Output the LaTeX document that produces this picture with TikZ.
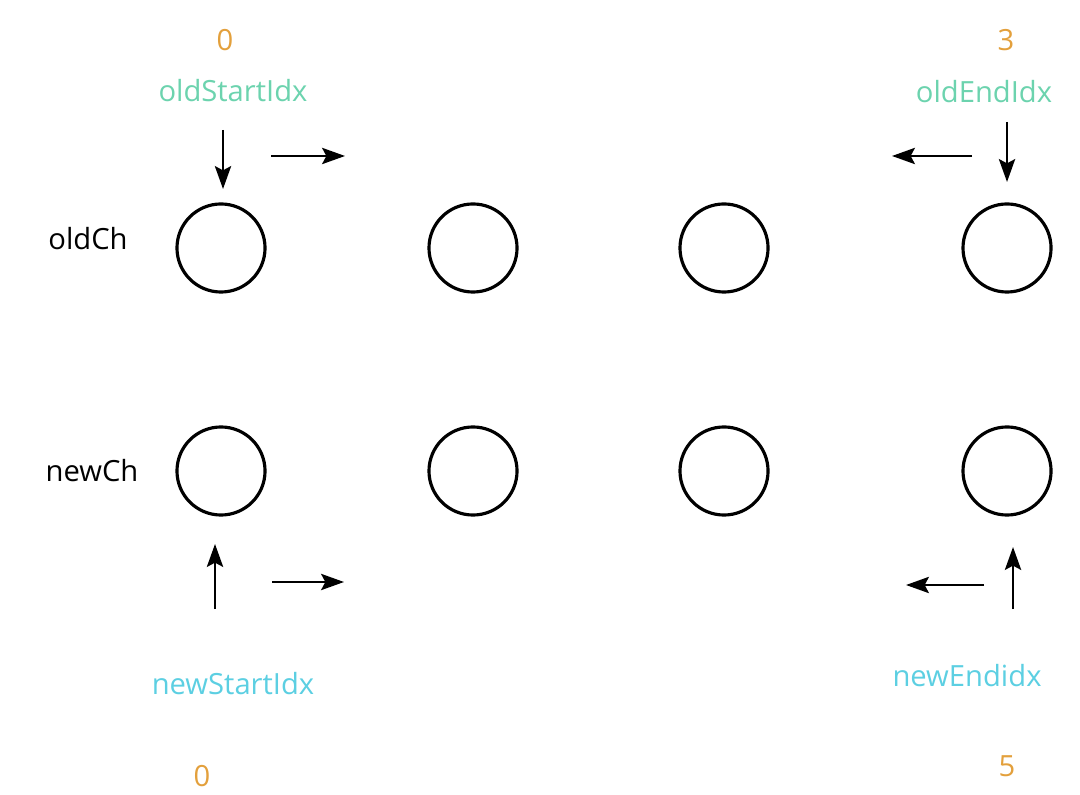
\documentclass[tikz,border=0pt]{standalone}
\usepackage{fontspec}
\setmainfont{Open Sans}
\usepackage{tikz}
\usetikzlibrary{arrows.meta,positioning}
\definecolor{idxnum}{HTML}{E3A03C}
\definecolor{oldidx}{HTML}{6CD3AE}
\definecolor{newidx}{HTML}{5CCFE2}
\tikzset{
	vnode/.style={circle, draw=black, line width=0.9pt, minimum size=0.88cm, inner sep=0pt},
	lbl/.style={font=\fontsize{8.3}{10}\selectfont, inner sep=0pt},
	ptr/.style={line width=0.75pt, -{Stealth[length=6.5pt,width=4.6pt,inset=1.2pt]}},
}
\begin{document}
\begin{tikzpicture}[x=0.01cm, y=-0.01cm]
		\useasboundingbox (0,0) rectangle (1080,795);
		% children
		\node [vnode] (o1) at (221,248) {};
		\node [vnode] (o2) at (473,248) {};
		\node [vnode] (o3) at (724,248) {};
		\node [vnode] (o4) at (1007,248) {};
		\node [vnode] (n1) at (221,471) {};
		\node [vnode] (n2) at (473,471) {};
		\node [vnode] (n3) at (724,471) {};
		\node [vnode] (n4) at (1007,471) {};
		\node [lbl] (oldch) at (88,239) {oldCh};
		\node [lbl] (newch) at (92,471) {newCh};
		% old pointers
		\node [lbl, text=idxnum] (os0) at (225,40) {0};
		\node [lbl, text=oldidx] (osi) at (233,91) {oldStartIdx};
		\node [lbl, text=idxnum] (oe3) at (1006,40) {3};
		\node [lbl, text=oldidx] (oei) at (984,92) {oldEndIdx};
		\coordinate (a1) at (223,130);
		\coordinate (a2) at (223,189);
		\coordinate (a3) at (271,156);
		\coordinate (a4) at (345,156);
		\coordinate (a5) at (972,156);
		\coordinate (a6) at (892,156);
		\coordinate (a7) at (1007,122);
		\coordinate (a8) at (1007,182);
		\draw [ptr] (a1) -- (a2);
		\draw [ptr] (a3) -- (a4);
		\draw [ptr] (a5) -- (a6);
		\draw [ptr] (a7) -- (a8);
		% new pointers
		\node [lbl, text=newidx] (nsi) at (233,684) {newStartIdx};
		\node [lbl, text=idxnum] (ns0) at (202,776) {0};
		\node [lbl, text=newidx] (nei) at (967,676) {newEndidx};
		\node [lbl, text=idxnum] (ne5) at (1007,766) {5};
		\coordinate (b1) at (215,609);
		\coordinate (b2) at (215,544);
		\coordinate (b3) at (272,582);
		\coordinate (b4) at (344,582);
		\coordinate (b5) at (984,585);
		\coordinate (b6) at (906,585);
		\coordinate (b7) at (1013,609);
		\coordinate (b8) at (1013,547);
		\draw [ptr] (b1) -- (b2);
		\draw [ptr] (b3) -- (b4);
		\draw [ptr] (b5) -- (b6);
		\draw [ptr] (b7) -- (b8);
	\end{tikzpicture}
\end{document}
